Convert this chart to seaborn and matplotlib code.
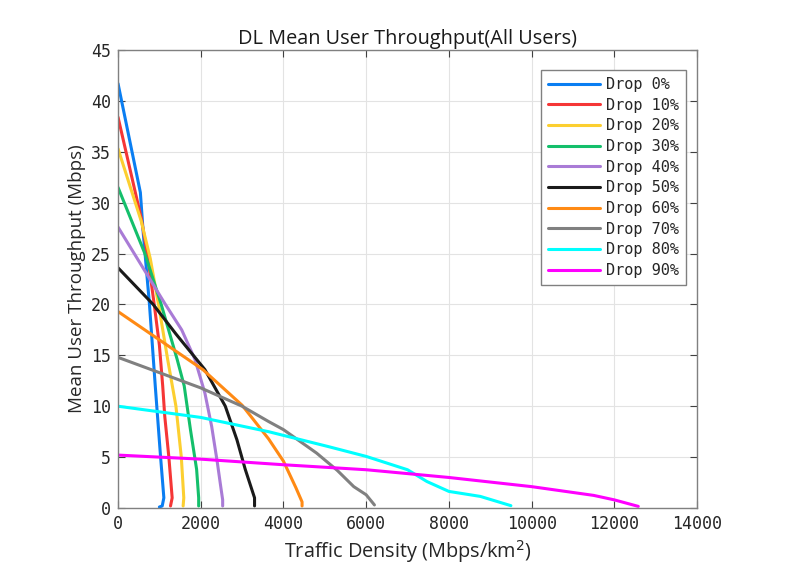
import numpy as np
import pandas as pd
import matplotlib
matplotlib.use('Agg')
import matplotlib.pyplot as plt
import seaborn as sns

# curves (traffic density in Mbps/km2, throughput in Mbps)
drop0_x = [0, 540, 610, 760, 900, 1029, 1108, 1068, 1000]
drop0_y = [41.7, 31.0, 27.0, 20.0, 12.0, 5.0, 1.0, 0.2, 0.1]
drop10_x = [0, 560, 708, 875, 1000, 1080, 1130, 1229, 1309, 1269]
drop10_y = [38.4, 28.5, 25.0, 20.0, 16.0, 12.0, 9.0, 5.0, 1.0, 0.2]
drop20_x = [0, 560, 780, 1000, 1200, 1400, 1530, 1590, 1574]
drop20_y = [35.3, 28.2, 24.5, 19.5, 14.6, 10.0, 5.0, 1.0, 0.2]
drop30_x = [0, 649, 1044, 1430, 1600, 1751, 1900, 1950, 1950]
drop30_y = [31.5, 25.0, 20.0, 14.6, 12.0, 7.7, 3.8, 1.0, 0.2]
drop40_x = [0, 1130, 1540, 1860, 2100, 2265, 2400, 2480, 2530, 2530]
drop40_y = [27.6, 20.1, 17.5, 14.6, 11.3, 8.0, 4.5, 2.2, 0.8, 0.2]
drop50_x = [0, 850, 1400, 2100, 2594, 2875, 3076, 3301, 3301]
drop50_y = [23.6, 20.0, 17.1, 13.6, 10.0, 6.7, 3.8, 1.0, 0.2]
drop60_x = [0, 2050, 3000, 3639, 4000, 4300, 4450, 4450]
drop60_y = [19.3, 13.6, 10.1, 6.8, 4.6, 2.0, 0.6, 0.2]
drop70_x = [0, 2000, 3000, 3639, 4000, 4800, 5300, 5700, 6000, 6200]
drop70_y = [14.8, 11.8, 10.0, 8.5, 7.7, 5.4, 3.7, 2.1, 1.3, 0.3]
drop80_x = [0, 2000, 3639, 5070, 6000, 7000, 7470, 8000, 8760, 9500]
drop80_y = [10.0, 8.9, 7.5, 6.05, 5.07, 3.76, 2.6, 1.63, 1.14, 0.23]
drop90_x = [0, 2000, 4000, 6000, 8000, 10000, 11500, 12000, 12580]
drop90_y = [5.2, 4.8, 4.25, 3.76, 3.0, 2.1, 1.24, 0.8, 0.16]

labels = ['Drop 0%', 'Drop 10%', 'Drop 20%', 'Drop 30%', 'Drop 40%',
          'Drop 50%', 'Drop 60%', 'Drop 70%', 'Drop 80%', 'Drop 90%']
colores = ['#0a7ef2', '#f53636', '#fccf30', '#14bf6b', '#a97bd6',
           '#1a1a1a', '#ff8a14', '#808080', '#00ffff', '#ff00ff']

series_x = [drop0_x, drop10_x, drop20_x, drop30_x, drop40_x,
            drop50_x, drop60_x, drop70_x, drop80_x, drop90_x]
series_y = [drop0_y, drop10_y, drop20_y, drop30_y, drop40_y,
            drop50_y, drop60_y, drop70_y, drop80_y, drop90_y]

frames = []
for lab, xs, ys in zip(labels, series_x, series_y):
    frames.append(pd.DataFrame({'x': xs, 'y': ys, 'Drop': lab}))
dados = pd.concat(frames, ignore_index=True)

sns.set_style('whitegrid')
plt.rcParams['font.family'] = ['Open Sans', 'DejaVu Sans']

fig = plt.figure(figsize=(7.89, 5.78), dpi=100)
ax = fig.add_axes([0.1496, 0.1211, 0.7338, 0.7924])

sns.lineplot(data=dados, x='x', y='y', hue='Drop', hue_order=labels,
             palette=colores, sort=False, estimator=None, linewidth=2.2, ax=ax)

ax.set_xlim(0, 14000)
ax.set_ylim(0, 45)
ax.set_xticks(np.arange(0, 14001, 2000))
ax.set_yticks(np.arange(0, 46, 5))
ax.grid(True, color='#e3e3e3', linewidth=0.8)
for s in ax.spines.values():
    s.set_color('#808080')
    s.set_linewidth(1.0)
ax.tick_params(direction='in', length=5, width=0.8, color='#404040',
               top=True, right=True, bottom=True, left=True, pad=5)
for t in ax.get_xticklabels() + ax.get_yticklabels():
    t.set_family('DejaVu Sans Mono')
    t.set_fontsize(12)
    t.set_color('#262626')

ax.set_title('DL Mean User Throughput(All Users)', fontsize=14.3, color='#1a1a1a', pad=4.5)
ax.set_xlabel('Traffic Density (Mbps/km$^2$)', fontsize=14.3, color='#262626', labelpad=4)
ax.set_ylabel('Mean User Throughput (Mbps)', fontsize=13.5, color='#262626', labelpad=4)

leg = ax.legend(loc='upper right', bbox_to_anchor=(0.981, 0.956), borderaxespad=0,
                prop={'family': 'DejaVu Sans Mono', 'size': 11}, frameon=True,
                fancybox=False, handlelength=3.4, handletextpad=0.4,
                labelspacing=0.37, borderpad=0.45)
leg.get_frame().set_edgecolor('#808080')
leg.get_frame().set_linewidth(1.0)
leg.get_frame().set_alpha(1)

plt.savefig('out.png', dpi=100)
